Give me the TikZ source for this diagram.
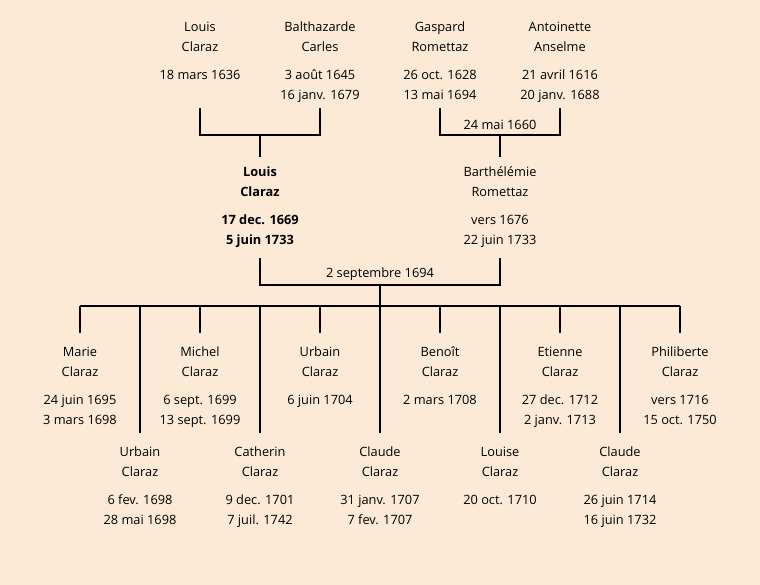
\documentclass[tikz,border=0pt]{standalone}
\usepackage{fontspec}
\setmainfont{Open Sans}
\usepackage{tikz}
\definecolor{fond}{RGB}{252,234,215}
\newcommand{\fiche}[4]{\strut #1\\#2\\[8pt]#3\\\strut #4}
\tikzset{
    personne/.style={
           align=center,
           inner sep=0pt,
           font=\fontsize{12.8}{20}\selectfont},
    personneg/.style={
           personne,
           font=\fontsize{12.8}{20}\selectfont\bfseries},
    lien/.style={
           line width=2pt},
    dmariage/.style={
           inner sep=0pt,
           font=\fontsize{12.8}{20}\selectfont}
    }
\begin{document}
\begin{tikzpicture}[x=1pt,y=-1pt]
\fill[fond] (0,0) rectangle (760,585);
% grands-parents
\node[personne] (louisP) at (200,61.5) {\fiche{Louis}{Claraz}{18 mars 1636}{}};
\node[personne] (balth) at (320,61.5) {\fiche{Balthazarde}{Carles}{3 août 1645}{16 janv. 1679}};
\node[personne] (gasp) at (440,61.5) {\fiche{Gaspard}{Romettaz}{26 oct. 1628}{13 mai 1694}};
\node[personne] (antoin) at (560,61.5) {\fiche{Antoinette}{Anselme}{21 avril 1616}{20 janv. 1688}};
% parents
\node[personneg] (louisF) at (260,206.5) {\fiche{Louis}{Claraz}{17 dec. 1669}{5 juin 1733}};
\node[personne] (barth) at (500,206.5) {\fiche{Barthélémie}{Romettaz}{vers 1676}{22 juin 1733}};
% enfants
\node[personne] (marie) at (80,386.5) {\fiche{Marie}{Claraz}{24 juin 1695}{3 mars 1698}};
\node[personne] (michel) at (200,386.5) {\fiche{Michel}{Claraz}{6 sept. 1699}{13 sept. 1699}};
\node[personne] (urbainB) at (320,386.5) {\fiche{Urbain}{Claraz}{6 juin 1704}{}};
\node[personne] (benoit) at (440,386.5) {\fiche{Benoît}{Claraz}{2 mars 1708}{}};
\node[personne] (etienne) at (560,386.5) {\fiche{Etienne}{Claraz}{27 dec. 1712}{2 janv. 1713}};
\node[personne] (philib) at (680,386.5) {\fiche{Philiberte}{Claraz}{vers 1716}{15 oct. 1750}};
\node[personne] (urbainA) at (140,486.5) {\fiche{Urbain}{Claraz}{6 fev. 1698}{28 mai 1698}};
\node[personne] (cath) at (260,486.5) {\fiche{Catherin}{Claraz}{9 dec. 1701}{7 juil. 1742}};
\node[personne] (claudeA) at (380,486.5) {\fiche{Claude}{Claraz}{31 janv. 1707}{7 fev. 1707}};
\node[personne] (louise) at (500,486.5) {\fiche{Louise}{Claraz}{20 oct. 1710}{}};
\node[personne] (claudeB) at (620,486.5) {\fiche{Claude}{Claraz}{26 juin 1714}{16 juin 1732}};
% mariages
\coordinate (m1) at (260,135.5);
\coordinate (m2) at (500,135.5);
\coordinate (m3) at (380,285.5);
\coordinate (fr) at (380,305.5);
\node[dmariage] (d2) at (500,125) {24 mai 1660};
\node[dmariage] (d3) at (380,274.5) {2 septembre 1694};
\draw[lien] ([yshift=-2.5pt]louisP.south) |- (m1) -| ([yshift=-2.5pt]balth.south);
\draw[lien] ([yshift=-2.5pt]gasp.south) |- (m2) -| ([yshift=-2.5pt]antoin.south);
\draw[lien] (m1) -- ([yshift=5.5pt]louisF.north);
\draw[lien] (m2) -- ([yshift=5.5pt]barth.north);
\draw[lien] ([yshift=-7.5pt]louisF.south) |- (m3) -| ([yshift=-7.5pt]barth.south);
\draw[lien] (m3) -- (fr);
\draw[lien] (marie.north |- fr) -- (philib.north |- fr);
\foreach \e in {marie,michel,urbainB,benoit,etienne,philib,urbainA,cath,claudeA,louise,claudeB}
  \draw[lien] (\e.north |- fr) -- ([yshift=9.5pt]\e.north);
\end{tikzpicture}
\end{document}
